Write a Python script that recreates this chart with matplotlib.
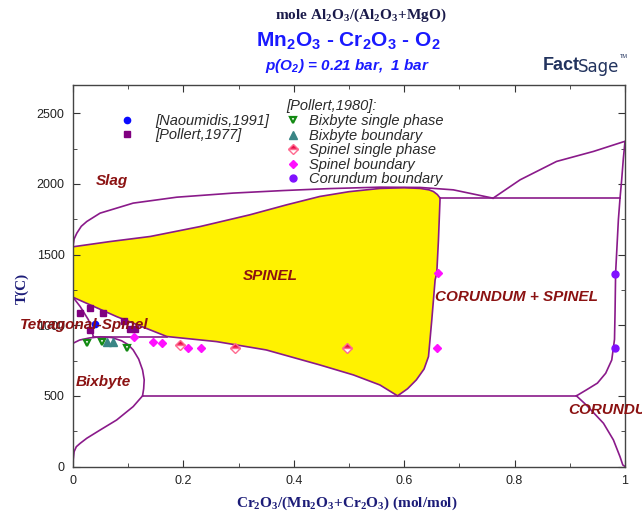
import matplotlib
matplotlib.use('Agg')
import matplotlib.pyplot as plt

# phase boundaries, x = Cr2O3/(Mn2O3+Cr2O3), T in C
liq_x = [0, 0.002, 0.007, 0.015, 0.025, 0.049, 0.109, 0.188, 0.29, 0.381, 0.466, 0.556, 0.629, 0.689, 0.761]
liq_T = [1555, 1610, 1652, 1700, 1734, 1793, 1864, 1906, 1935, 1953, 1967, 1977, 1975, 1958, 1899]

cor_liq_x = [0.761, 0.81, 0.876, 0.943, 0.997, 1.0]
cor_liq_T = [1899, 2029, 2159, 2230, 2298, 2300]

sp_top_x = [0, 0.067, 0.14, 0.23, 0.32, 0.387, 0.447, 0.50, 0.556, 0.60, 0.629, 0.645, 0.653, 0.660, 0.665]
sp_top_T = [1555, 1592, 1628, 1698, 1781, 1852, 1911, 1945, 1968, 1973, 1968, 1958, 1946, 1925, 1900]

sp_right_x = [0.665, 0.662, 0.659, 0.656, 0.650, 0.644, 0.636, 0.622, 0.606, 0.588]
sp_right_T = [1900, 1600, 1368, 1321, 1038, 778, 690, 613, 550, 500]

sp_low_x = [0.588, 0.556, 0.508, 0.447, 0.35, 0.26, 0.17, 0.079, 0]
sp_low_T = [500, 577, 648, 719, 825, 884, 920, 1061, 1198]

tet_x = [0, 0.013, 0.028, 0.037]
tet_T = [1198, 1132, 1038, 919]
tet3_x = [0.037, 0.17]
tet3_T = [919, 919]

bix_x = [0, 0.012, 0.03, 0.05, 0.07, 0.088, 0.1, 0.109, 0.119, 0.126, 0.129, 0.128, 0.126]
bix_T = [872, 895, 910, 918, 913, 890, 862, 825, 760, 683, 613, 550, 500]

low_x = [0, 0.0005, 0.002, 0.006, 0.013, 0.025, 0.049, 0.079, 0.109, 0.126]
low_T = [0, 50, 105, 140, 164, 200, 258, 329, 424, 500]

eut_x = [0.126, 0.912]
eut_T = [500, 500]

cor_x = [0.912, 0.93, 0.95, 0.965, 0.976, 0.981, 0.982, 0.983, 0.988, 0.991]
cor_T = [500, 542, 590, 660, 754, 900, 1100, 1370, 1746, 1900]

cor_sol_x = [0.991, 0.994, 0.997, 1.0]
cor_sol_T = [1900, 2030, 2180, 2300]

lr_x = [0.912, 0.93, 0.961, 0.979, 0.991, 0.996, 1.0]
lr_T = [500, 435, 306, 188, 69, 11, 0]

h1900_x = [0.665, 0.991]
h1900_T = [1900, 1900]

# experimental points
naou_x = [0.04]
naou_T = [1012]
pol77_x = [0.013, 0.031, 0.054, 0.031, 0.093, 0.103, 0.113]
pol77_T = [1085, 1120, 1085, 967, 1030, 970, 975]
bix_single_x = [0.025, 0.052, 0.098]
bix_single_T = [875, 884, 837]
bix_bound_x = [0.062, 0.072]
bix_bound_T = [878, 878]
sp_single_x = [0.194, 0.293, 0.496]
sp_single_T = [860, 837, 841]
sp_bound_x = [0.111, 0.145, 0.162, 0.208, 0.231, 0.659, 0.662]
sp_bound_T = [915, 884, 872, 841, 841, 841, 1368]
cor_bound_x = [0.982, 0.982]
cor_bound_T = [1363, 837]

line_c = '#8a1a8a'
label_c = '#8b1212'
navy = '#1c1c78'
blue = '#1a1aff'

fig = plt.figure(figsize=(6.42, 5.15), dpi=100)
ax = fig.add_axes([73 / 642, 48.5 / 515, 552 / 642, 381.5 / 515])

# spinel single-phase field
fill_x = sp_top_x + sp_right_x[1:] + sp_low_x[1:]
fill_T = sp_top_T + sp_right_T[1:] + sp_low_T[1:]
ax.fill(fill_x, fill_T, color='#fff200', lw=0, zorder=1)

for xs, ts in [(liq_x, liq_T), (cor_liq_x, cor_liq_T), (sp_top_x, sp_top_T),
               (sp_right_x, sp_right_T), (sp_low_x, sp_low_T), (tet_x, tet_T),
               (tet3_x, tet3_T), (bix_x, bix_T), (low_x, low_T), (eut_x, eut_T),
               (cor_x, cor_T), (cor_sol_x, cor_sol_T), (lr_x, lr_T), (h1900_x, h1900_T)]:
    ax.plot(xs, ts, color=line_c, lw=1.2, zorder=2, solid_joinstyle='round')

h_naou, = ax.plot(naou_x, naou_T, 'o', color='#0a0aff', ms=4.5, ls='none', zorder=3)
h_p77, = ax.plot(pol77_x, pol77_T, 's', color='#800080', ms=5, ls='none', zorder=3)
h_bs, = ax.plot(bix_single_x, bix_single_T, 'v', mfc='white', mec='#138a13', mew=1.6, ms=5, ls='none', zorder=3)
h_bb, = ax.plot(bix_bound_x, bix_bound_T, '^', color='#3a8585', ms=5.5, ls='none', zorder=3)
h_ss, = ax.plot(sp_single_x, sp_single_T, 'D', fillstyle='top', mfc='#e8104a', mfcalt='white',
                mec='#ff6a90', mew=1, ms=5, ls='none', zorder=3)
h_sb, = ax.plot(sp_bound_x, sp_bound_T, 'D', color='#ff10ff', ms=4.5, ls='none', zorder=3)
h_cb, = ax.plot(cor_bound_x, cor_bound_T, 'o', color='#8010ff', ms=5, ls='none', zorder=3)

ax.set_xlim(0, 1)
ax.set_ylim(0, 2700)
ax.set_xticks([0, 0.2, 0.4, 0.6, 0.8, 1])
ax.set_xticklabels(['0', '0.2', '0.4', '0.6', '0.8', '1'])
ax.set_xticks([0.1, 0.3, 0.5, 0.7, 0.9], minor=True)
ax.set_yticks([0, 500, 1000, 1500, 2000, 2500])
ax.set_yticks([250, 750, 1250, 1750, 2250], minor=True)
ax.tick_params(which='both', direction='in', top=True, right=True, colors='#333333',
               labelsize=9, labelcolor='#222222', pad=6)
ax.tick_params(which='major', length=5)
ax.tick_params(which='minor', length=3)
for lab in ax.get_xticklabels() + ax.get_yticklabels():
    lab.set_family('Liberation Sans')
for s in ax.spines.values():
    s.set_color('#444444')
    s.set_linewidth(1)

# region labels
lbl = dict(color=label_c, family='Liberation Sans', weight='bold', style='italic',
           fontsize=11, zorder=4, va='center')
ax.text(0.07, 2020, 'Slag', ha='center', **lbl)
ax.text(0.357, 1350, 'SPINEL', ha='center', **lbl)
ax.text(0.02, 1002, 'Tetragonal-Spinel', ha='center', clip_on=False, **lbl)
ax.text(0.055, 600, 'Bixbyte', ha='center', **lbl)
ax.text(0.803, 1200, 'CORUNDUM + SPINEL', ha='center', **lbl)
ax.text(0.897, 400, 'CORUNDUM', ha='left', clip_on=False, **lbl)

# legends
lp = dict(family='Liberation Sans', style='italic', size=10.5)
leg1 = ax.legend([h_naou, h_p77], ['[Naoumidis,1991]', '[Pollert,1977]'],
                 loc='upper left', bbox_to_anchor=(0.085, 0.925), frameon=False, prop=lp,
                 handlelength=1, handletextpad=1.4, borderpad=0, borderaxespad=0,
                 labelspacing=0.04, labelcolor='#2a2a2a')
ax.add_artist(leg1)
leg2 = ax.legend([h_bs, h_bb, h_ss, h_sb, h_cb],
                 ['Bixbyte single phase', 'Bixbyte boundary', 'Spinel single phase',
                  'Spinel boundary', 'Corundum boundary'],
                 title='[Pollert,1980]:', title_fontproperties=lp, alignment='left',
                 loc='upper left', bbox_to_anchor=(0.386, 0.962), frameon=False, prop=lp,
                 handlelength=1, handletextpad=0.6, borderpad=0, borderaxespad=0,
                 labelspacing=0.04, labelcolor='#2a2a2a')
leg2.get_title().set_color('#2a2a2a')

# titles
fig.text(361 / 642, 1 - 15 / 515, r'mole Al$_\mathregular{2}$O$_\mathregular{3}$/(Al$_\mathregular{2}$O$_\mathregular{3}$+MgO)',
         ha='center', va='center', family='Liberation Serif', weight='bold', fontsize=11, color='#1a1a4a')
fig.text(348 / 642, 1 - 41 / 515, r'Mn$_\mathregular{2}$O$_\mathregular{3}$ - Cr$_\mathregular{2}$O$_\mathregular{3}$ - O$_\mathregular{2}$',
         ha='center', va='center', family='Liberation Sans', weight='bold', fontsize=15, color=blue)
fig.text(348 / 642, 1 - 66 / 515, r'p(O$_\mathregular{2}$) = 0.21 bar,  1 bar',
         ha='center', va='center', family='Liberation Sans', weight='bold', style='italic',
         fontsize=11, color=blue)

# logo
fig.text(543 / 642, 1 - 66 / 515, 'Fact', ha='left', va='center', family='Liberation Sans',
         weight='bold', fontsize=13, color='#22335e')
fig.text(578 / 642, 1 - 67 / 515, 'Sage', ha='left', va='center', family='Liberation Sans Narrow',
         fontsize=12, color='#22335e')
fig.text(620 / 642, 1 - 56 / 515, 'TM', ha='left', va='center', family='Liberation Sans',
         fontsize=4, color='#22335e')

# axis labels
fig.text(347 / 642, 1 - 503 / 515,
         r'Cr$_\mathregular{2}$O$_\mathregular{3}$/(Mn$_\mathregular{2}$O$_\mathregular{3}$+Cr$_\mathregular{2}$O$_\mathregular{3}$) (mol/mol)',
         ha='center', va='center', family='Liberation Serif', weight='bold', fontsize=11, color=navy)
fig.text(22 / 642, 1 - 288 / 515, 'T(C)', ha='center', va='center', rotation=90,
         family='Liberation Serif', weight='bold', fontsize=11, color=navy)

fig.savefig('out.png', dpi=100)
